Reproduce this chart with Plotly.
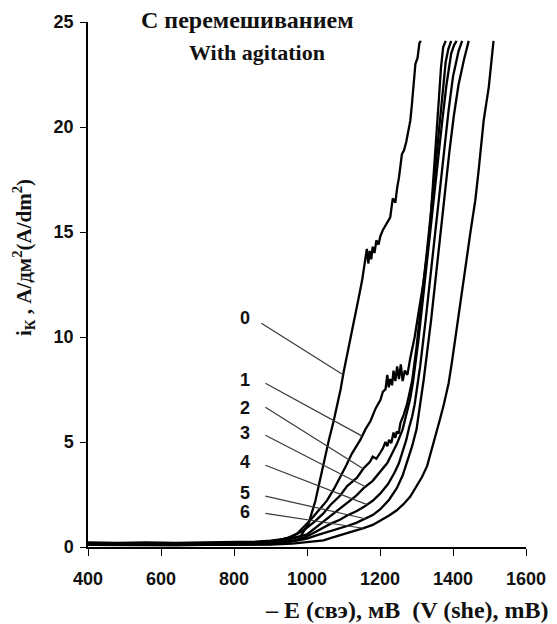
import numpy as np
import plotly.graph_objects as go

# ---- data: potential (-E, mV) and cathodic current density (A/dm2) ----
e0 = [400, 480, 560, 640, 720, 800, 860, 900, 930, 955, 982, 1004, 1023, 1045, 1060, 1073, 1086, 1092, 1100, 1110, 1118, 1125, 1132, 1142, 1151, 1157, 1160, 1164, 1168, 1172, 1176, 1180, 1185, 1190, 1196, 1201, 1208, 1215, 1222, 1228, 1235, 1242, 1247, 1252, 1260, 1266, 1272, 1279, 1283, 1287, 1292, 1297, 1303, 1308, 1312]
i0 = [0.22, 0.2, 0.22, 0.2, 0.22, 0.22, 0.25, 0.3, 0.35, 0.42, 0.5, 1.1, 2.2, 4.0, 5.1, 6.0, 7.0, 7.5, 8.3, 9.2, 9.85, 10.4, 11.1, 11.9, 12.7, 13.3, 13.6, 14.2, 13.5, 14.1, 13.7, 14.3, 14.0, 14.6, 14.4, 14.8, 15.1, 15.3, 15.5, 15.7, 16.6, 16.4, 17.1, 17.6, 18.7, 18.9, 19.3, 20.0, 20.3, 21.0, 22.1, 23.0, 23.3, 24.0, 24.1]

e1 = [400, 480, 560, 640, 720, 800, 860, 910, 945, 973, 1009, 1030, 1055, 1075, 1091, 1108, 1123, 1135, 1146, 1160, 1174, 1188, 1201, 1208, 1215, 1220, 1224, 1228, 1233, 1237, 1242, 1247, 1252, 1257, 1262, 1268, 1275, 1283, 1295, 1306, 1319, 1328, 1336, 1342, 1350, 1356, 1362, 1367, 1373, 1380]
i1 = [0.18, 0.16, 0.18, 0.16, 0.18, 0.18, 0.2, 0.27, 0.42, 0.64, 1.27, 1.7, 2.22, 2.8, 3.32, 3.9, 4.45, 4.8, 5.1, 5.6, 6.0, 6.6, 7.0, 7.4, 7.5, 8.2, 7.6, 8.0, 7.7, 8.4, 7.9, 8.6, 8.0, 8.7, 7.9, 8.4, 8.2, 9.0, 10.0, 11.2, 12.6, 13.8, 15.0, 16.5, 18.3, 20.0, 21.5, 22.8, 23.8, 24.1]

e2 = [400, 480, 560, 640, 720, 800, 870, 920, 960, 991, 1020, 1045, 1064, 1091, 1110, 1137, 1155, 1164, 1172, 1180, 1190, 1201, 1208, 1215, 1220, 1225, 1231, 1237, 1242, 1246, 1251, 1256, 1265, 1274, 1288, 1300, 1315, 1328, 1340, 1350, 1360, 1370, 1380, 1387, 1395]
i2 = [0.16, 0.15, 0.16, 0.15, 0.16, 0.16, 0.2, 0.3, 0.5, 0.8, 1.2, 1.6, 2.0, 2.45, 2.9, 3.3, 3.75, 3.9, 4.05, 4.3, 4.2, 4.5, 4.7, 5.0, 4.8, 5.1, 4.95, 5.45, 5.2, 5.5, 5.4, 5.9, 6.3, 6.8, 7.9, 9.5, 11.8, 14.0, 16.0, 17.8, 19.8, 21.6, 23.1, 23.7, 24.1]

e3 = [400, 480, 560, 640, 720, 800, 870, 920, 960, 1000, 1030, 1064, 1090, 1110, 1135, 1155, 1180, 1201, 1220, 1230, 1246, 1262, 1274, 1282, 1290, 1305, 1320, 1335, 1348, 1360, 1370, 1382, 1395, 1403, 1410]
i3 = [0.14, 0.13, 0.14, 0.13, 0.14, 0.14, 0.17, 0.25, 0.4, 0.6, 1.0, 1.45, 1.8, 2.1, 2.45, 2.8, 3.15, 3.6, 4.0, 4.35, 4.9, 5.6, 6.4, 7.0, 7.8, 9.8, 12.2, 14.5, 16.5, 18.6, 20.2, 22.0, 23.5, 23.9, 24.1]

e4 = [400, 480, 560, 640, 720, 800, 880, 930, 965, 1000, 1030, 1064, 1090, 1110, 1135, 1155, 1180, 1201, 1222, 1240, 1252, 1262, 1272, 1280, 1288, 1295, 1310, 1325, 1340, 1352, 1362, 1375, 1388, 1400, 1415, 1425]
i4 = [0.12, 0.11, 0.12, 0.11, 0.12, 0.12, 0.15, 0.22, 0.32, 0.5, 0.8, 1.1, 1.3, 1.5, 1.7, 1.9, 2.2, 2.55, 3.0, 3.55, 4.0, 4.5, 5.1, 5.7, 6.2, 6.8, 8.6, 10.8, 13.2, 15.2, 16.8, 18.8, 20.8, 22.4, 23.6, 24.1]

e5 = [400, 480, 560, 640, 720, 800, 890, 940, 970, 1000, 1030, 1064, 1090, 1110, 1135, 1155, 1180, 1201, 1225, 1246, 1262, 1275, 1288, 1300, 1320, 1340, 1355, 1368, 1378, 1390, 1402, 1415, 1430, 1443]
i5 = [0.1, 0.09, 0.1, 0.09, 0.1, 0.1, 0.13, 0.2, 0.3, 0.4, 0.58, 0.75, 0.9, 1.0, 1.15, 1.3, 1.52, 1.8, 2.25, 2.8, 3.4, 4.1, 4.8, 5.6, 8.0, 10.8, 13.2, 15.5, 17.0, 18.8, 20.5, 22.0, 23.2, 24.1]

e6 = [400, 480, 560, 640, 720, 800, 900, 960, 1000, 1045, 1064, 1090, 1110, 1135, 1155, 1180, 1201, 1225, 1246, 1265, 1283, 1300, 1315, 1329, 1338, 1352, 1363, 1375, 1388, 1397, 1406, 1420, 1434, 1447, 1461, 1470, 1484, 1498, 1505, 1511]
i6 = [0.1, 0.09, 0.1, 0.09, 0.1, 0.1, 0.12, 0.16, 0.22, 0.32, 0.42, 0.55, 0.65, 0.78, 0.9, 1.05, 1.25, 1.5, 1.75, 2.05, 2.4, 2.9, 3.33, 3.85, 4.4, 5.2, 6.0, 6.8, 7.8, 8.8, 9.85, 11.7, 13.3, 14.9, 16.5, 17.9, 20.3, 21.9, 23.0, 24.1]

series_e = [e0, e1, e2, e3, e4, e5, e6]
series_i = [i0, i1, i2, i3, i4, i5, i6]
curve_labels = ["0", "1", "2", "3", "4", "5", "6"]

# label anchor (mV, A/dm2), leader start and the potential where the leader meets its curve
label_e = [831, 831, 831, 831, 831, 831, 831]
label_i = [10.9, 7.94, 6.61, 5.42, 4.04, 2.56, 1.65]
leader_start_e = [875, 886, 886, 886, 886, 886, 886]
leader_start_i = [10.65, 7.8, 6.65, 5.32, 3.89, 2.42, 1.6]
leader_end_e = [1099, 1151, 1154, 1160, 1165, 1160, 1154]

x_ticks = [400, 600, 800, 1000, 1200, 1400, 1600]
y_ticks = [0, 5, 10, 15, 20, 25]

title_ru = "С перемешиванием"
title_en = "With agitation"
x_title = "– E (свэ), мВ\u00a0 (V (she), mB)"
y_title = "i<sub>К</sub> , A/дм<sup>2</sup>(A/dm<sup>2</sup>)"

W, H = 557, 624
L, R, T, B = 88, 31, 22, 77
pw, ph = W - L - R, H - T - B


def px(x):
    return (x - L) / pw


def py(y):
    return (H - B - y) / ph


fig = go.Figure()
for e, i in zip(series_e, series_i):
    fig.add_trace(go.Scatter(x=e, y=i, mode="lines",
                             line=dict(color="black", width=2.3),
                             showlegend=False, hoverinfo="skip"))

label_font = dict(family="Liberation Sans", size=18, color="#111", weight="bold")
for k, lab in enumerate(curve_labels):
    end_i = float(np.interp(leader_end_e[k], series_e[k], series_i[k]))
    fig.add_shape(type="line", xref="x", yref="y",
                  x0=leader_start_e[k], y0=leader_start_i[k],
                  x1=leader_end_e[k], y1=end_i,
                  line=dict(color="#3a3a3a", width=1.2))
    fig.add_annotation(x=label_e[k], y=label_i[k], xref="x", yref="y",
                       text=lab, showarrow=False, font=label_font)

serif = dict(family="Liberation Serif", color="#111", weight="bold")
fig.add_annotation(x=px(139), y=py(20), xref="paper", yref="paper", text=title_ru,
                   showarrow=False, xanchor="left", yanchor="middle",
                   font=dict(serif, size=24))
fig.add_annotation(x=px(187), y=py(52), xref="paper", yref="paper", text=title_en,
                   showarrow=False, xanchor="left", yanchor="middle",
                   font=dict(serif, size=22))
fig.add_annotation(x=px(551), y=py(610), xref="paper", yref="paper", text=x_title,
                   showarrow=False, xanchor="right", yanchor="middle",
                   font=dict(serif, size=24))
fig.add_annotation(x=px(23), y=py(258), xref="paper", yref="paper", text=y_title,
                   showarrow=False, xanchor="center", yanchor="middle", textangle=-90,
                   font=dict(serif, size=21))

tick_font = dict(family="Liberation Sans", size=18, color="#111", weight="bold")
fig.update_layout(
    width=W, height=H,
    margin=dict(l=L, r=R, t=T, b=B),
    paper_bgcolor="white", plot_bgcolor="white",
    xaxis=dict(range=[400, 1600], tickvals=x_ticks, ticks="outside", ticklen=7,
               tickwidth=1.3, tickcolor="black", showline=True, linecolor="black",
               linewidth=1.5, showgrid=False, zeroline=False, fixedrange=True,
               tickfont=tick_font, ticklabelstandoff=8),
    yaxis=dict(range=[0, 25], tickvals=y_ticks, ticks="outside", ticklen=6,
               tickwidth=1.3, tickcolor="black", showline=True, linecolor="black",
               linewidth=1.5, showgrid=False, zeroline=False, fixedrange=True,
               tickfont=tick_font, ticklabelstandoff=3),
)

fig.write_html("out.html")
